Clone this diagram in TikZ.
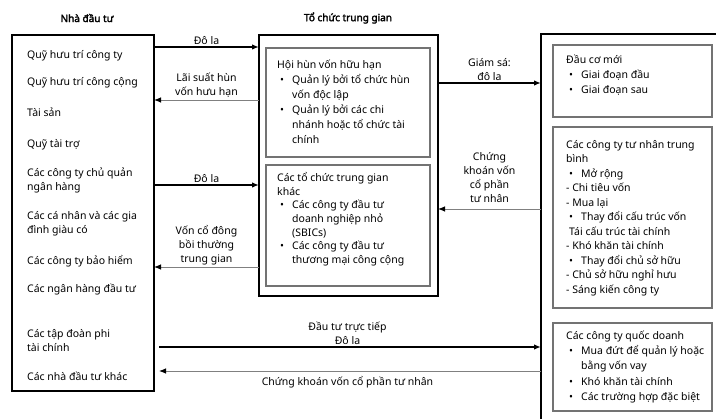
\documentclass[tikz,border=0pt]{standalone}
\usepackage{fontspec}
\setmainfont{Noto Sans}[AutoFakeBold=2.5]
\usetikzlibrary{arrows.meta,calc}

\newcommand{\bul}{\hspace*{3pt}\makebox[12pt][l]{\textbullet}}
\newcommand{\ind}{\hspace*{15pt}}
\newcommand{\lines}[1]{\parbox[t]{170pt}{\raggedright #1}}

\begin{document}
\begin{tikzpicture}[x=1pt,y=-1pt,
  font=\fontsize{10.5}{14}\selectfont,
  bigbox/.style={draw=black,line width=1.8pt,anchor=north west,inner sep=0pt,outer sep=0pt},
  subbox/.style={draw=black!55,line width=1.3pt,anchor=north west,inner sep=0pt,outer sep=0pt},
  item/.style={anchor=base west,inner sep=0pt},
  lbl/.style={align=center,inner sep=2pt},
  title/.style={font=\bfseries\fontsize{10}{12}\selectfont},
  fundflow/.style={line width=1.6pt,-{Latex[length=7pt,width=5.5pt]}},
  returnflow/.style={draw=black!50,line width=0.9pt,-{Latex[black,length=7pt,width=5.5pt]}}]
\useasboundingbox (0,0) rectangle (716,419);

% boxes
\node[bigbox,minimum width=142pt,minimum height=356pt] (inv) at (12,35) {};
\node[bigbox,minimum width=179pt,minimum height=261pt] (mid) at (259,35) {};
\node[subbox,minimum width=164pt,minimum height=109pt] (lp) at (266,48) {};
\node[subbox,minimum width=164pt,minimum height=121pt] (oth) at (266,165) {};
\node[bigbox,minimum width=190pt,minimum height=400pt] (firm) at (541,34) {};
\node[subbox,minimum width=159pt,minimum height=72pt] (newv) at (553,45) {};
\node[subbox,minimum width=159pt,minimum height=181pt] (priv) at (553,127) {};
\node[subbox,minimum width=159pt,minimum height=88pt] (pub) at (553,323) {};

\node[title] (invT) at (87,18) {Nhà đầu tư};
\node[title] (midT) at (348,18) {Tổ chức trung gian};

% investors
\foreach \yy/\txt [count=\i] in {59/{Quỹ hưu trí công ty},86/{Quỹ hưu trí công cộng},
  117/{Tài sản},148/{Quỹ tài trợ},177/{Các công ty chủ quản\\ngân hàng},
  220/{Các cá nhân và các gia\\đình giàu có},265/{Các công ty bảo hiểm},
  293/{Các ngân hàng đầu tư},338/{Các tập đoàn phi\\tài chính},381/{Các nhà đầu tư khác}}
  \node[item] (inv\i) at (27,\yy) {\lines{\txt}};

% intermediaries
\node[item,font=\fontsize{10.5}{15}\selectfont] (lpT) at (277,69)
  {\lines{Hội hùn vốn hữu hạn\\\bul Quản lý bởi tổ chức hùn\\\ind vốn độc lập\\
   \bul Quản lý bởi các chi\\\ind nhánh hoặc tổ chức tài\\\ind chính}};
\node[item,font=\fontsize{10.5}{13.7}\selectfont] (othT) at (277,181.5)
  {\lines{Các tổ chức trung gian\\khác\\\bul Các công ty đầu tư\\\ind doanh nghiệp nhỏ\\
   \ind (SBICs)\\\bul Các công ty đầu tư\\\ind thương mại công cộng}};

% issuers
\node[item,font=\fontsize{10.5}{15}\selectfont] (newvT) at (566,63.5)
  {\lines{Đầu cơ mới\\\bul Giai đoạn đầu\\\bul Giai đoạn sau}};
\node[item,font=\fontsize{10.5}{14.5}\selectfont] (privT) at (566,148.5)
  {\lines{Các công ty tư nhân trung\\bình\\\bul Mở rộng\\- Chi tiêu vốn\\- Mua lại\\
   \bul Thay đổi cấu trúc vốn\\\hspace*{3pt}Tái cấu trúc tài chính\\- Khó khăn tài chính\\
   \bul Thay đổi chủ sở hữu\\- Chủ sở hữu nghỉ hưu\\- Sáng kiến công ty}};
\node[item,font=\fontsize{10.5}{15.2}\selectfont] (pubT) at (566,339.5)
  {\lines{Các công ty quốc doanh\\\bul Mua đứt để quản lý hoặc\\\ind bằng vốn vay\\
   \bul Khó khăn tài chính\\\bul Các trường hợp đặc biệt}};

% flows
\coordinate (r1) at (0,47);
\coordinate (r2) at (0,100);
\coordinate (r3) at (0,185);
\coordinate (r4) at (0,267);
\coordinate (r5) at (0,83);
\coordinate (r6) at (0,209);
\coordinate (r7) at (0,347);
\coordinate (r8) at (0,371);

\draw[fundflow] (inv.east |- r1) -- node[lbl,above] (l1) {Đô la} (mid.west |- r1);
\draw[returnflow] (mid.west |- r2) -- node[lbl,above] (l2) {Lãi suất hùn\\vốn hưu hạn} (inv.east |- r2);
\draw[fundflow] (inv.east |- r3) -- node[lbl,above] (l3) {Đô la} (mid.west |- r3);
\draw[returnflow] (mid.west |- r4) -- node[lbl,above] (l4) {Vốn cổ đông\\bồi thường\\trung gian} (inv.east |- r4);
\draw[fundflow] (mid.east |- r5) -- node[lbl,above] (l5) {Giám sá:\\đô la} (firm.west |- r5);
\draw[returnflow] (firm.west |- r6) -- node[lbl,above=4pt] (l6) {Chứng\\khoán vốn\\cổ phần\\tư nhân} (mid.east |- r6);
\draw[fundflow,shorten <=5pt] (inv.east |- r7) -- node[lbl,above] (l7) {Đầu tư trực tiếp\\Đô la} (firm.west |- r7);
\draw[returnflow,shorten >=5pt] (firm.west |- r8) -- node[lbl,below=3pt] (l8) {Chứng khoán vốn cổ phần tư nhân} (inv.east |- r8);

\end{tikzpicture}
\end{document}
